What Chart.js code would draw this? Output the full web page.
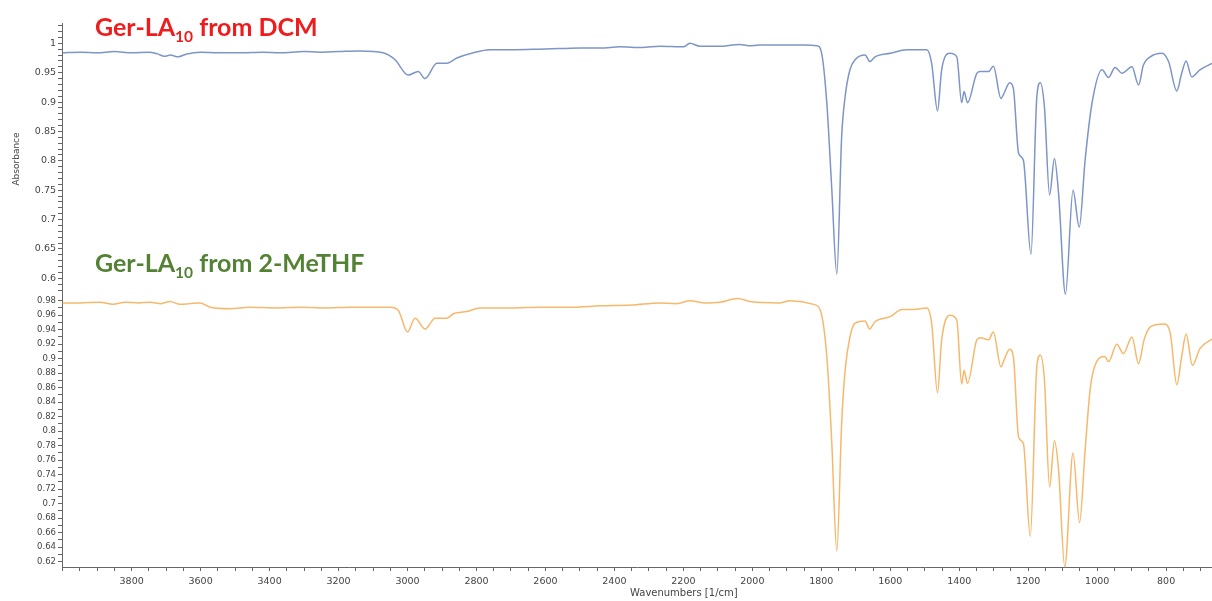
<!DOCTYPE html>
<html>
<head>
<meta charset="utf-8">
<script src="https://cdn.jsdelivr.net/npm/chart.js@4"></script>
<style>
  body { margin: 0; background: #fff; }
  #wrap { position: relative; width: 1212px; height: 601px; }
  .note { position: absolute; left: 95px; font-family: Lato, "Open Sans", sans-serif; font-weight: 700; font-size: 25px; line-height: 1; white-space: nowrap; }
  .note sub { font-size: 0.62em; vertical-align: -0.36em; line-height: 0; }
  #noteDcm { top: 14px; color: #ee1c1c; }
  #noteThf { top: 250px; color: #548235; }
  #xTitle { position: absolute; left: 630px; top: 587px; font-family: "DejaVu Sans", sans-serif; font-size: 10px; line-height: 12px; color: #444; white-space: nowrap; }
</style>
</head>
<body>
<div id="wrap">
  <canvas id="irChart"></canvas>
  <div class="note" id="noteDcm">Ger-LA<sub>10</sub> from DCM</div>
  <div class="note" id="noteThf">Ger-LA<sub>10</sub> from 2-MeTHF</div>
  <div id="xTitle">Wavenumbers [1/cm]</div>
</div>
<script>
// spectrum from DCM (top panel)
const dcmWavenumber = [4000, 3950, 3900, 3850, 3800, 3750, 3725, 3705, 3688, 3665, 3640, 3600, 3550, 3486, 3420, 3370, 3300, 3254, 3200, 3138, 3071, 3036, 2998, 2969, 2949, 2915, 2886, 2857, 2809, 2761, 2700, 2616, 2560, 2500, 2440, 2384, 2320, 2268, 2200, 2181, 2152, 2100, 2036, 2010, 1978, 1920, 1850, 1813, 1799, 1784, 1770, 1755, 1741, 1731, 1717, 1702, 1673, 1659, 1644, 1600, 1552, 1494, 1480, 1463, 1451, 1427, 1407, 1393, 1386, 1376, 1349, 1339, 1315, 1301, 1279, 1270, 1254, 1243, 1228, 1214, 1192, 1175, 1165, 1153, 1138, 1124, 1112, 1092, 1070, 1052, 1035, 1015, 986, 967, 948, 928, 899, 880, 866, 846, 812, 793, 769, 755, 742, 726, 702, 667];
const dcmAbsorbance = [0.984, 0.985, 0.984, 0.986, 0.984, 0.985, 0.982, 0.978, 0.980, 0.977, 0.982, 0.985, 0.984, 0.984, 0.985, 0.984, 0.986, 0.985, 0.986, 0.987, 0.984, 0.972, 0.946, 0.952, 0.940, 0.966, 0.966, 0.975, 0.984, 0.989, 0.989, 0.990, 0.991, 0.992, 0.992, 0.994, 0.993, 0.995, 0.994, 1.000, 0.995, 0.995, 0.998, 0.996, 0.997, 0.997, 0.997, 0.996, 0.983, 0.898, 0.756, 0.607, 0.841, 0.909, 0.955, 0.972, 0.980, 0.969, 0.977, 0.983, 0.989, 0.989, 0.966, 0.885, 0.955, 0.983, 0.977, 0.899, 0.918, 0.899, 0.949, 0.952, 0.952, 0.961, 0.906, 0.915, 0.933, 0.923, 0.813, 0.801, 0.641, 0.909, 0.933, 0.892, 0.742, 0.804, 0.745, 0.573, 0.750, 0.687, 0.801, 0.898, 0.955, 0.942, 0.959, 0.949, 0.960, 0.929, 0.963, 0.977, 0.983, 0.969, 0.919, 0.949, 0.970, 0.943, 0.955, 0.966];

// spectrum from 2-MeTHF (bottom panel)
const thfWavenumber = [4000, 3950, 3892, 3854, 3819, 3780, 3747, 3715, 3689, 3660, 3631, 3602, 3572, 3515, 3457, 3380, 3312, 3240, 3166, 3100, 3051, 3027, 3000, 2978, 2949, 2920, 2886, 2867, 2828, 2790, 2700, 2616, 2520, 2442, 2350, 2268, 2220, 2181, 2140, 2094, 2042, 2007, 1920, 1890, 1822, 1803, 1784, 1770, 1755, 1741, 1731, 1717, 1702, 1673, 1660, 1644, 1600, 1566, 1533, 1494, 1480, 1463, 1451, 1427, 1407, 1393, 1386, 1376, 1349, 1339, 1315, 1301, 1279, 1270, 1254, 1243, 1228, 1214, 1194, 1175, 1165, 1153, 1138, 1124, 1112, 1094, 1070, 1051, 1035, 1020, 1006, 978, 967, 943, 924, 899, 880, 864, 846, 807, 788, 769, 755, 742, 724, 702, 667];
const thfAbsorbance = [0.977, 0.977, 0.978, 0.975, 0.978, 0.977, 0.978, 0.976, 0.979, 0.975, 0.976, 0.977, 0.971, 0.969, 0.971, 0.970, 0.971, 0.970, 0.971, 0.971, 0.971, 0.967, 0.937, 0.956, 0.941, 0.956, 0.956, 0.962, 0.965, 0.970, 0.970, 0.971, 0.971, 0.973, 0.974, 0.977, 0.976, 0.980, 0.977, 0.978, 0.983, 0.979, 0.977, 0.980, 0.975, 0.967, 0.903, 0.788, 0.635, 0.811, 0.884, 0.930, 0.949, 0.952, 0.941, 0.951, 0.958, 0.968, 0.968, 0.970, 0.949, 0.853, 0.926, 0.960, 0.953, 0.865, 0.884, 0.866, 0.926, 0.929, 0.926, 0.937, 0.889, 0.898, 0.913, 0.903, 0.792, 0.783, 0.655, 0.889, 0.905, 0.871, 0.723, 0.787, 0.747, 0.613, 0.770, 0.674, 0.774, 0.859, 0.891, 0.903, 0.896, 0.920, 0.907, 0.930, 0.893, 0.926, 0.944, 0.948, 0.935, 0.864, 0.903, 0.934, 0.891, 0.914, 0.927];

const axisColor = "#666";
const tickColor = "#444";

function toPoints(xs, ys) {
  return xs.map((x, i) => ({ x: x, y: ys[i] }));
}

function onStep(value, step) {
  const r = Math.round(value * 1000) / 1000;
  return Math.abs(Math.round(r / step) * step - r) < 1e-6;
}

function yAxis(min, max, every, fontSize, showTitle) {
  return {
    type: "linear",
    position: "left",
    stack: "panels",
    stackWeight: 1,
    min: min,
    max: max,
    afterFit: scale => { scale.width = 62; },
    border: { display: true, color: axisColor, width: 1 },
    grid: { drawOnChartArea: false, drawTicks: true, tickLength: 4, color: axisColor },
    ticks: {
      stepSize: 0.01,
      autoSkip: false,
      includeBounds: false,
      padding: 2,
      color: tickColor,
      font: { family: "DejaVu Sans", size: fontSize },
      callback: v => onStep(v, every) ? String(+v.toFixed(2)) : ""
    },
    title: {
      display: showTitle,
      text: "Absorbance",
      color: tickColor,
      font: { family: "DejaVu Sans", size: 9 },
      padding: { top: 11, bottom: 0 }
    }
  };
}

new Chart(document.getElementById("irChart"), {
  type: "line",
  data: {
    datasets: [{
      label: "Ger-LA10 from DCM",
      data: toPoints(dcmWavenumber, dcmAbsorbance),
      yAxisID: "yTop",
      borderColor: "#7d95c7",
      borderWidth: 1.5,
      pointRadius: 0,
      cubicInterpolationMode: "monotone",
      clip: 6
    }, {
      label: "Ger-LA10 from 2-MeTHF",
      data: toPoints(thfWavenumber, thfAbsorbance),
      yAxisID: "yBottom",
      borderColor: "#f6b86c",
      borderWidth: 1.5,
      pointRadius: 0,
      cubicInterpolationMode: "monotone",
      clip: 6
    }]
  },
  options: {
    responsive: true,
    maintainAspectRatio: false,
    animation: false,
    layout: { padding: { top: 23, right: 0, bottom: 0, left: 0 } },
    plugins: { legend: { display: false }, tooltip: { enabled: false } },
    scales: {
      x: {
        type: "linear",
        reverse: true,
        min: 667,
        max: 4002,
        afterFit: scale => { scale.height = 34; },
        border: { display: true, color: axisColor, width: 1 },
        grid: { drawOnChartArea: false, drawTicks: true, tickLength: 4, color: axisColor },
        ticks: {
          stepSize: 50,
          autoSkip: false,
          includeBounds: false,
          maxRotation: 0,
          padding: 5,
          color: tickColor,
          font: { family: "DejaVu Sans", size: 9.5 },
          callback: v => (v % 200 === 0 && v < 4000) ? String(v) : ""
        }
      },
      // stacked axes are placed bottom-up in definition order
      yBottom: yAxis(0.6127, 0.9879, 0.02, 8.5, false),
      yTop: yAxis(0.5716, 1.0346, 0.05, 9.5, true)
    }
  }
});
</script>
</body>
</html>
